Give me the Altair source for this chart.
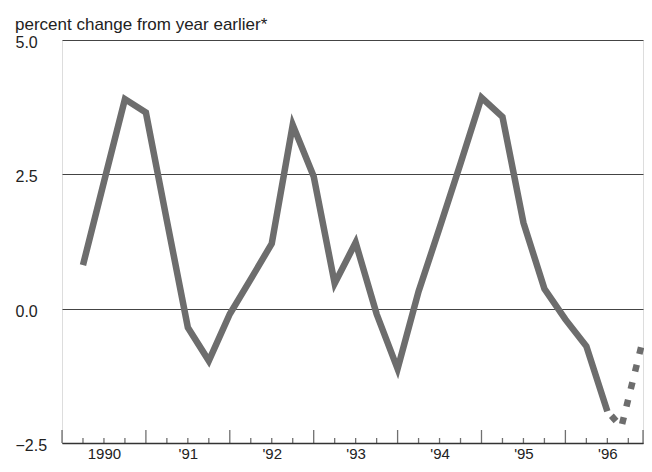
import json
import altair as alt
import pandas as pd

# ---- data (quarter index: 1 = 1990 Q1, ... 26 = 1996 Q2)
quarters = list(range(1, 27))
values = [0.81, 2.36, 3.90, 3.65, 1.64, -0.35, -0.97, -0.10, 0.55, 1.21,
          3.42, 2.46, 0.47, 1.23, -0.10, -1.12, 0.32, 1.50, 2.70, 3.93,
          3.57, 1.60, 0.37, -0.20, -0.70, -1.91]
# projected (dotted) segment, in quarter units
proj_x = [26, 26.67, 27.67]
proj_values = [-1.91, -2.20, -0.62]

year_labels = ["1990", "'91", "'92", "'93", "'94", "'95", "'96"]
year_centers = [2, 6, 10, 14, 18, 22, 26]
major_ticks = [0, 4, 8, 12, 16, 20, 24, 27.7]
minor_ticks = [q for q in range(1, 28) if q % 4 != 0]
y_ticks = [-2.5, 0.0, 2.5, 5.0]
x_domain = [0, 27.7]
y_domain = [-2.5, 5.0]

FONT = "Liberation Sans"
LINE = "#6d6d6d"
INK = "#222222"
AXIS = "#333333"
W, H = 581, 403
MAJOR_LEN, MINOR_LEN = 13, 5

df = pd.DataFrame({"q": quarters, "v": values})
dp = pd.DataFrame({"q": proj_x, "v": proj_values})
dmaj = pd.DataFrame({"q": major_ticks})
dmin = pd.DataFrame({"q": minor_ticks})

xs = alt.Scale(domain=x_domain, nice=False, zero=False)
ys = alt.Scale(domain=y_domain, nice=False, zero=False)

yaxis = alt.Axis(values=y_ticks, format=".1f", title=None, domain=False,
                 ticks=False, tickSize=0, labelAlign="left", labelPadding=47,
                 labelFontSize=16, labelFont=FONT, labelColor=INK,
                 labelOffset=2.5, grid=True, gridColor="#444444", gridWidth=1)

label_expr = "{}[indexof({}, datum.value)]".format(json.dumps(year_labels),
                                                   json.dumps(year_centers))
xaxis = alt.Axis(values=year_centers, labelExpr=label_expr, title=None,
                 grid=False, domain=True, domainColor=AXIS, domainWidth=1.3,
                 ticks=False, labelPadding=3, labelFontSize=15, labelFont=FONT,
                 labelColor=INK, labelBaseline="top")

major = alt.Chart(dmaj).mark_tick(
    orient="vertical", color=AXIS, thickness=1.3, size=MAJOR_LEN,
    yOffset=-MAJOR_LEN / 2,
).encode(
    x=alt.X("q:Q", scale=xs, axis=xaxis),
    y=alt.Y(datum=y_domain[0], scale=ys, axis=yaxis),
)

minor = alt.Chart(dmin).mark_tick(
    orient="vertical", color=AXIS, thickness=1.3, size=MINOR_LEN,
    yOffset=-MINOR_LEN / 2,
).encode(
    x=alt.X("q:Q", scale=xs, axis=xaxis),
    y=alt.Y(datum=y_domain[0], scale=ys, axis=yaxis),
)

solid = alt.Chart(df).mark_line(
    color=LINE, strokeWidth=6.5, strokeCap="butt", strokeJoin="miter"
).encode(
    x=alt.X("q:Q", scale=xs, axis=xaxis),
    y=alt.Y("v:Q", scale=ys, axis=yaxis),
)

proj = alt.Chart(dp).mark_line(
    color=LINE, strokeWidth=6.5, strokeCap="butt", strokeDash=[7, 11],
    strokeDashOffset=-6
).encode(
    x=alt.X("q:Q", scale=xs, axis=xaxis),
    y=alt.Y("v:Q", scale=ys, axis=yaxis),
)

chart = alt.layer(solid, proj, major, minor).properties(
    width=W, height=H,
    autosize=alt.AutoSizeParams(type="none"),
    padding={"left": 54, "top": 32, "right": 1, "bottom": 21},
    title=alt.TitleParams("percent change from year earlier*", anchor="start",
                          frame="group", dx=-47, dy=21, fontSize=17, font=FONT,
                          fontWeight="normal", color=INK, baseline="alphabetic",
                          offset=9),
).configure_view(stroke=None).configure(background="white")

chart.save("out.html", embed_options={"renderer": "svg", "actions": False})
